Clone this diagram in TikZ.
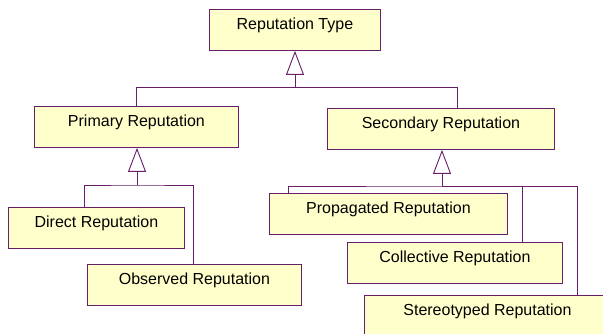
\documentclass[tikz,border=0pt]{standalone}
\usepackage{fontspec}
\setmainfont{Liberation Sans}
\usetikzlibrary{arrows.meta}
\definecolor{edge}{RGB}{104,30,104}
\definecolor{boxfill}{RGB}{255,255,204}
\tikzset{
  box/.style={draw=edge, fill=boxfill, line width=0.9pt, anchor=north west,
    inner xsep=0pt, inner ysep=0pt, text height=20pt, text depth=21pt,
    font=\fontsize{16pt}{18pt}\selectfont},
  link/.style={draw=edge, line width=0.9pt},
  gen/.style={link, -{Triangle[open, length=24pt, width=18pt, line width=0.9pt]}}
}
\begin{document}
\begin{tikzpicture}[x=1pt, y=-1pt]
\clip (0,0) rectangle (603,334);
\fill[white] (0,0) rectangle (603,334);
% nodes
\node[box, minimum width=171pt] (rt) at (209,9) {Reputation Type};
\node[box, minimum width=204pt] (pr) at (34,106) {Primary Reputation};
\node[box, minimum width=227pt] (sr) at (327,108) {Secondary Reputation};
\node[box, minimum width=176pt] (dr) at (8,207) {Direct Reputation};
\node[box, minimum width=214pt] (ob) at (87,264) {Observed Reputation};
\node[box, minimum width=238pt] (pg) at (269,193) {Propagated Reputation};
\node[box, minimum width=215pt] (co) at (347,242) {Collective Reputation};
\node[box, minimum width=246pt] (st) at (364,295) {Stereotyped Reputation};
% junctions
\coordinate (j1) at (295,87);
\coordinate (j2) at (137,185);
\coordinate (j3) at (442,186);
% top level
\draw[gen] (j1) -- (j1 |- rt.south);
\draw[link] (j1 -| pr.north) -- (pr.north);
\draw[link] ([xshift=1pt]pr.north |- j1) -- ([xshift=16.5pt]sr.north |- j1) -- ([xshift=16.5pt]sr.north);
% primary
\draw[gen] (j2) -- (j2 |- pr.south);
\draw[link] ([xshift=-12pt]dr.north) |- (j2) -| ([xshift=-1pt]ob.north);
% secondary
\draw[gen] (j3) -- (j3 |- sr.south);
\draw[link] ([xshift=-100pt]pg.north) |- (j3) -| ([xshift=90pt]st.north);
\draw[link] (j3) -| ([xshift=67.5pt]co.north);
\end{tikzpicture}
\end{document}
